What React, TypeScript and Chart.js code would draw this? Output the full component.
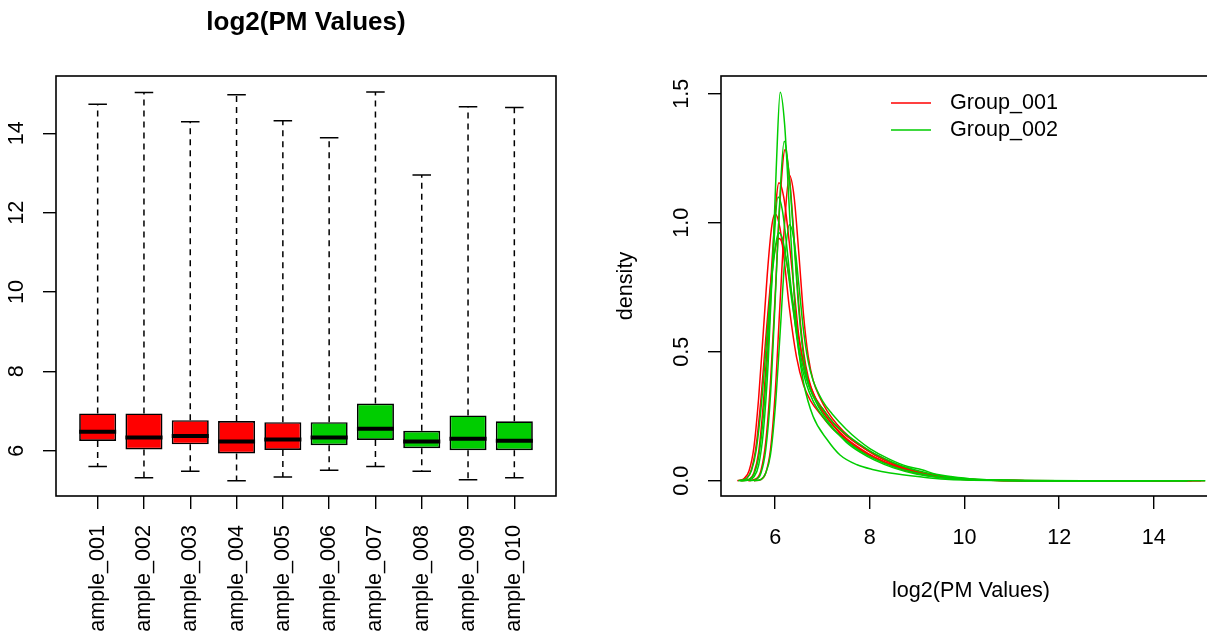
import React, { useEffect, useRef } from "react";
import { Chart, registerables } from "chart.js";

Chart.register(...registerables);

const FONT = "'Liberation Sans', Arial, Helvetica, sans-serif";

// ---------- Box plot data (left panel) ----------
const sampleNames = [
  "Sample_001", "Sample_002", "Sample_003", "Sample_004", "Sample_005",
  "Sample_006", "Sample_007", "Sample_008", "Sample_009", "Sample_010",
];
const samplePositions = [1, 2, 3, 4, 5, 6, 7, 8, 9, 10];
const groupOf = [0, 0, 0, 0, 0, 1, 1, 1, 1, 1];
const groupNames = ["Group_001", "Group_002"];
const groupColors = ["#FF0000", "#00CD00"];

const whiskerLow = [5.60, 5.32, 5.48, 5.24, 5.34, 5.51, 5.60, 5.48, 5.27, 5.32];
const quartile1 = [6.245, 6.03, 6.16, 5.93, 6.02, 6.14, 6.27, 6.06, 6.01, 6.01];
const medians = [6.48, 6.33, 6.37, 6.23, 6.28, 6.33, 6.555, 6.23, 6.30, 6.25];
const quartile3 = [6.94, 6.94, 6.77, 6.75, 6.72, 6.72, 7.19, 6.50, 6.89, 6.74];
const whiskerHigh = [14.73, 15.03, 14.29, 14.97, 14.32, 13.89, 15.04, 12.95, 14.67, 14.65];

const boxYTicks = [6, 8, 10, 12, 14];

// ---------- Density data (right panel) ----------
const density001: [number, number][] = [
  [5.55, 0], [5.7, 0.005], [5.8, 0.03], [5.9, 0.12], [6.0, 0.34], [6.1, 0.68], [6.2, 1.0],
  [6.3, 1.184], [6.4, 1.10], [6.5, 0.88], [6.6, 0.64], [6.7, 0.48], [6.8, 0.39], [6.95, 0.32],
  [7.1, 0.27], [7.3, 0.22], [7.6, 0.165], [7.9, 0.125], [8.2, 0.095], [8.6, 0.06], [9.0, 0.035],
  [9.5, 0.016], [10, 0.007], [11, 0.001], [12, 0], [14.8, 0],
];
const density002: [number, number][] = [
  [5.27, 0], [5.4, 0.01], [5.5, 0.045], [5.6, 0.14], [5.7, 0.32], [5.8, 0.55], [5.9, 0.76],
  [6.0, 0.90], [6.08, 0.939], [6.15, 0.92], [6.25, 0.84], [6.35, 0.72], [6.5, 0.55], [6.65, 0.42],
  [6.8, 0.34], [7.0, 0.28], [7.25, 0.22], [7.5, 0.175], [7.8, 0.135], [8.1, 0.10], [8.5, 0.065],
  [9.0, 0.035], [9.5, 0.017], [10, 0.007], [11, 0.001], [12, 0], [15.08, 0],
];
const density003: [number, number][] = [
  [5.43, 0], [5.6, 0.008], [5.7, 0.04], [5.8, 0.15], [5.9, 0.38], [6.0, 0.72], [6.1, 1.08],
  [6.21, 1.284], [6.3, 1.18], [6.4, 0.94], [6.5, 0.68], [6.6, 0.50], [6.7, 0.40], [6.85, 0.32],
  [7.0, 0.27], [7.2, 0.22], [7.5, 0.16], [7.8, 0.12], [8.1, 0.09], [8.5, 0.055], [9.0, 0.028],
  [9.5, 0.013], [10, 0.005], [11, 0.001], [12, 0], [14.35, 0],
];
const density004: [number, number][] = [
  [5.2, 0], [5.35, 0.01], [5.45, 0.04], [5.55, 0.13], [5.65, 0.32], [5.75, 0.58], [5.85, 0.84],
  [5.93, 0.99], [6.0, 1.035], [6.1, 0.98], [6.2, 0.84], [6.3, 0.67], [6.45, 0.48], [6.6, 0.37],
  [6.75, 0.31], [6.95, 0.26], [7.2, 0.205], [7.5, 0.16], [7.8, 0.12], [8.1, 0.09], [8.5, 0.058],
  [9.0, 0.03], [9.5, 0.014], [10, 0.006], [11, 0.001], [12, 0], [15.0, 0],
];
const density005: [number, number][] = [
  [5.3, 0], [5.45, 0.006], [5.55, 0.03], [5.65, 0.11], [5.75, 0.30], [5.85, 0.58], [5.95, 0.90],
  [6.08, 1.155], [6.18, 1.10], [6.3, 0.92], [6.4, 0.74], [6.5, 0.56], [6.65, 0.41], [6.8, 0.33],
  [7.0, 0.27], [7.25, 0.21], [7.5, 0.165], [7.8, 0.125], [8.1, 0.092], [8.5, 0.06], [9.0, 0.032],
  [9.5, 0.015], [10, 0.006], [11, 0.001], [12, 0], [14.38, 0],
];
const density006: [number, number][] = [
  [5.46, 0], [5.6, 0.005], [5.7, 0.03], [5.8, 0.12], [5.9, 0.33], [6.0, 0.70], [6.1, 1.10],
  [6.19, 1.316], [6.3, 1.17], [6.4, 0.92], [6.5, 0.66], [6.6, 0.48], [6.7, 0.38], [6.85, 0.31],
  [7.0, 0.26], [7.2, 0.21], [7.5, 0.15], [7.8, 0.11], [8.1, 0.08], [8.5, 0.05], [9.0, 0.025],
  [9.5, 0.012], [10, 0.005], [11, 0.001], [12, 0], [13.95, 0],
];
const density007: [number, number][] = [
  [5.55, 0], [5.7, 0.005], [5.8, 0.03], [5.9, 0.10], [6.0, 0.28], [6.1, 0.56], [6.2, 0.85],
  [6.3, 0.992], [6.4, 0.93], [6.5, 0.76], [6.6, 0.58], [6.7, 0.46], [6.8, 0.39], [7.0, 0.31],
  [7.2, 0.26], [7.5, 0.20], [7.75, 0.159], [8.0, 0.125], [8.4, 0.085], [8.8, 0.055], [9.1, 0.043],
  [9.4, 0.025], [9.7, 0.017], [10.2, 0.007], [11, 0.002], [12, 0], [15.09, 0],
];
const density008: [number, number][] = [
  [5.25, 0], [5.45, 0.003], [5.55, 0.015], [5.65, 0.06], [5.75, 0.19], [5.85, 0.45], [5.95, 0.86],
  [6.02, 1.20], [6.106, 1.506], [6.2, 1.38], [6.3, 1.05], [6.4, 0.72], [6.5, 0.50], [6.6, 0.38],
  [6.8, 0.25], [7.1, 0.159], [7.37, 0.10], [7.73, 0.062], [8.08, 0.043], [8.43, 0.03],
  [9.13, 0.014], [9.6, 0.006], [10, 0.003], [11, 0.0005], [12, 0], [13.0, 0],
];
const density009: [number, number][] = [
  [5.22, 0], [5.4, 0.01], [5.5, 0.04], [5.6, 0.12], [5.7, 0.28], [5.8, 0.50], [5.9, 0.73],
  [6.0, 0.90], [6.07, 0.961], [6.15, 0.94], [6.25, 0.84], [6.35, 0.70], [6.5, 0.52], [6.65, 0.40],
  [6.8, 0.33], [7.0, 0.28], [7.25, 0.22], [7.5, 0.18], [7.8, 0.14], [8.1, 0.105], [8.5, 0.07],
  [9.0, 0.04], [9.5, 0.02], [10, 0.008], [10.5, 0.003], [11.5, 0.001], [12.5, 0], [14.72, 0],
];
const density010: [number, number][] = [
  [5.27, 0], [5.45, 0.005], [5.55, 0.025], [5.65, 0.09], [5.75, 0.25], [5.85, 0.52], [5.95, 0.85],
  [6.06, 1.10], [6.15, 1.05], [6.25, 0.90], [6.35, 0.72], [6.5, 0.50], [6.65, 0.38], [6.8, 0.31],
  [7.0, 0.25], [7.25, 0.195], [7.5, 0.155], [7.8, 0.115], [8.1, 0.085], [8.5, 0.055], [9.0, 0.03],
  [9.5, 0.014], [10, 0.006], [11, 0.001], [12, 0], [14.7, 0],
];
const densityCurves = [
  density001, density002, density003, density004, density005,
  density006, density007, density008, density009, density010,
];

const densityXTicks = [6, 8, 10, 12, 14];
const densityYTicks = [0, 0.5, 1, 1.5];
const densityYTickLabels = ["0.0", "0.5", "1.0", "1.5"];

// ---------- plugins ----------
const boxplotPlugin = {
  id: "boxplotParts",
  beforeDatasetsDraw(chart: any) {
    const { ctx } = chart;
    const x = chart.scales.x;
    const y = chart.scales.y;
    ctx.save();
    ctx.strokeStyle = "#000";
    ctx.lineWidth = 1.5;
    samplePositions.forEach((p, i) => {
      const px = x.getPixelForValue(p);
      const sl = x.getPixelForValue(p - 0.2);
      const sr = x.getPixelForValue(p + 0.2);
      ctx.setLineDash([6, 5]);
      ctx.beginPath();
      ctx.moveTo(px, y.getPixelForValue(quartile3[i]));
      ctx.lineTo(px, y.getPixelForValue(whiskerHigh[i]));
      ctx.moveTo(px, y.getPixelForValue(quartile1[i]));
      ctx.lineTo(px, y.getPixelForValue(whiskerLow[i]));
      ctx.stroke();
      ctx.setLineDash([]);
      ctx.beginPath();
      const yh = y.getPixelForValue(whiskerHigh[i]);
      const yl = y.getPixelForValue(whiskerLow[i]);
      ctx.moveTo(sl, yh);
      ctx.lineTo(sr, yh);
      ctx.moveTo(sl, yl);
      ctx.lineTo(sr, yl);
      ctx.stroke();
    });
    ctx.restore();
  },
  afterDatasetsDraw(chart: any) {
    const { ctx } = chart;
    const x = chart.scales.x;
    const y = chart.scales.y;
    ctx.save();
    ctx.strokeStyle = "#000";
    ctx.lineWidth = 4;
    samplePositions.forEach((p, i) => {
      const ym = y.getPixelForValue(medians[i]);
      ctx.beginPath();
      ctx.moveTo(x.getPixelForValue(p - 0.4), ym);
      ctx.lineTo(x.getPixelForValue(p + 0.4), ym);
      ctx.stroke();
    });
    ctx.restore();
  },
  afterDraw(chart: any) {
    const { ctx, chartArea: ca } = chart;
    ctx.save();
    ctx.strokeStyle = "#000";
    ctx.lineWidth = 1.6;
    ctx.strokeRect(ca.left, ca.top, ca.right - ca.left, ca.bottom - ca.top);
    ctx.restore();
  },
};

const densityFramePlugin = {
  id: "densityFrame",
  afterDraw(chart: any) {
    const { ctx, chartArea: ca } = chart;
    ctx.save();
    ctx.strokeStyle = "#000";
    ctx.lineWidth = 1.6;
    ctx.strokeRect(ca.left, ca.top, ca.right - ca.left, ca.bottom - ca.top);
    // legend
    ctx.font = `21.6px ${FONT}`;
    ctx.textBaseline = "middle";
    ctx.textAlign = "left";
    groupNames.forEach((name, k) => {
      const yy = ca.top + 27 + k * 27;
      ctx.strokeStyle = groupColors[k];
      ctx.lineWidth = 1.5;
      ctx.beginPath();
      ctx.moveTo(ca.left + 170, yy);
      ctx.lineTo(ca.left + 210, yy);
      ctx.stroke();
      ctx.fillStyle = "#000";
      ctx.fillText(name, ca.left + 229, yy);
    });
    ctx.restore();
  },
};

export default function App() {
  const leftRef = useRef<HTMLCanvasElement>(null);
  const rightRef = useRef<HTMLCanvasElement>(null);

  useEffect(() => {
    Chart.defaults.color = "#000";
    Chart.defaults.font.family = FONT;

    const tickFont = { size: 21.6, family: FONT };
    const tickGrid = {
      display: true,
      drawOnChartArea: false,
      drawTicks: true,
      tickLength: 13,
      color: "#000",
      lineWidth: 1.4,
      offset: false,
    };

    const left = new Chart(leftRef.current!, {
      type: "bar",
      data: {
        datasets: [
          {
            label: "boxes",
            data: samplePositions.map((p, i) => ({ x: p, y: [quartile1[i], quartile3[i]] })) as any,
            backgroundColor: samplePositions.map((_, i) => groupColors[groupOf[i]]),
            borderColor: "#000",
            borderWidth: 1.7,
            borderSkipped: false,
            barPercentage: 0.8,
            categoryPercentage: 1,
          } as any,
        ],
      },
      options: {
        responsive: false,
        animation: false,
        devicePixelRatio: 1,
        layout: { padding: { left: 0, right: 56, top: 0, bottom: 0 } },
        plugins: {
          legend: { display: false },
          tooltip: { enabled: false },
          title: {
            display: true,
            fullSize: false,
            text: "log2(PM Values)",
            color: "#000",
            font: { size: 26, weight: "bold", family: FONT },
            padding: { top: 7.4, bottom: 37.4 },
          },
        },
        scales: {
          x: {
            type: "linear",
            offset: false,
            min: 0.1,
            max: 10.9,
            afterBuildTicks: (s: any) => {
              s.ticks = samplePositions.map((v) => ({ value: v }));
            },
            afterFit: (s: any) => {
              s.height = 136;
            },
            ticks: {
              autoSkip: false,
              minRotation: 90,
              maxRotation: 90,
              padding: 16,
              font: tickFont,
              color: "#000",
              callback: (_v: any, idx: number) => sampleNames[idx],
            },
            grid: tickGrid,
            border: { display: false },
          },
          y: {
            type: "linear",
            min: 4.858,
            max: 15.445,
            afterBuildTicks: (s: any) => {
              s.ticks = boxYTicks.map((v) => ({ value: v }));
            },
            afterFit: (s: any) => {
              s.width = 56;
            },
            ticks: {
              minRotation: 90,
              maxRotation: 90,
              crossAlign: "center",
              padding: 13.5,
              font: tickFont,
              color: "#000",
              callback: (_v: any, idx: number) => String(boxYTicks[idx]),
            },
            grid: tickGrid,
            border: { display: false },
          },
        },
      } as any,
      plugins: [boxplotPlugin],
    });

    const right = new Chart(rightRef.current!, {
      type: "line",
      data: {
        datasets: densityCurves.map((pts, i) => ({
          label: sampleNames[i],
          data: pts.map(([x, y]) => ({ x, y })),
          borderColor: groupColors[groupOf[i]],
          backgroundColor: groupColors[groupOf[i]],
          borderWidth: 1.5,
          pointRadius: 0,
          cubicInterpolationMode: "monotone" as const,
          fill: false,
          order: 10 - i,
        })),
      },
      options: {
        responsive: false,
        animation: false,
        devicePixelRatio: 1,
        layout: { padding: { left: 0, right: 25, top: 76, bottom: 0 } },
        plugins: {
          legend: { display: false },
          tooltip: { enabled: false },
          title: { display: false },
        },
        scales: {
          x: {
            type: "linear",
            min: 4.855,
            max: 15.42,
            afterBuildTicks: (s: any) => {
              s.ticks = densityXTicks.map((v) => ({ value: v }));
            },
            afterFit: (s: any) => {
              s.height = 136;
            },
            ticks: {
              padding: 16.5,
              font: tickFont,
              color: "#000",
              maxRotation: 0,
              callback: (_v: any, idx: number) => String(densityXTicks[idx]),
            },
            grid: tickGrid,
            border: { display: false },
            title: {
              display: true,
              text: "log2(PM Values)",
              color: "#000",
              font: tickFont,
              padding: { top: 0, bottom: 28 },
            },
          },
          y: {
            type: "linear",
            min: -0.059,
            max: 1.569,
            afterBuildTicks: (s: any) => {
              s.ticks = densityYTicks.map((v) => ({ value: v }));
            },
            afterFit: (s: any) => {
              s.width = 115;
            },
            ticks: {
              minRotation: 90,
              maxRotation: 90,
              crossAlign: "center",
              padding: 10.5,
              font: tickFont,
              color: "#000",
              callback: (_v: any, idx: number) => densityYTickLabels[idx],
            },
            grid: tickGrid,
            border: { display: false },
            title: {
              display: true,
              text: "density",
              color: "#000",
              font: tickFont,
              padding: { top: 7, bottom: 0 },
            },
          },
        },
      } as any,
      plugins: [densityFramePlugin],
    });

    return () => {
      left.destroy();
      right.destroy();
    };
  }, []);

  return (
    <div
      style={{
        position: "fixed",
        left: 0,
        top: 0,
        width: 1207,
        height: 632,
        overflow: "hidden",
        background: "#fff",
      }}
    >
      <canvas
        ref={leftRef}
        width={612}
        height={632}
        style={{ position: "absolute", left: 0, top: 0, width: 612, height: 632 }}
      />
      <canvas
        ref={rightRef}
        width={640}
        height={632}
        style={{ position: "absolute", left: 606, top: 0, width: 640, height: 632 }}
      />
    </div>
  );
}
